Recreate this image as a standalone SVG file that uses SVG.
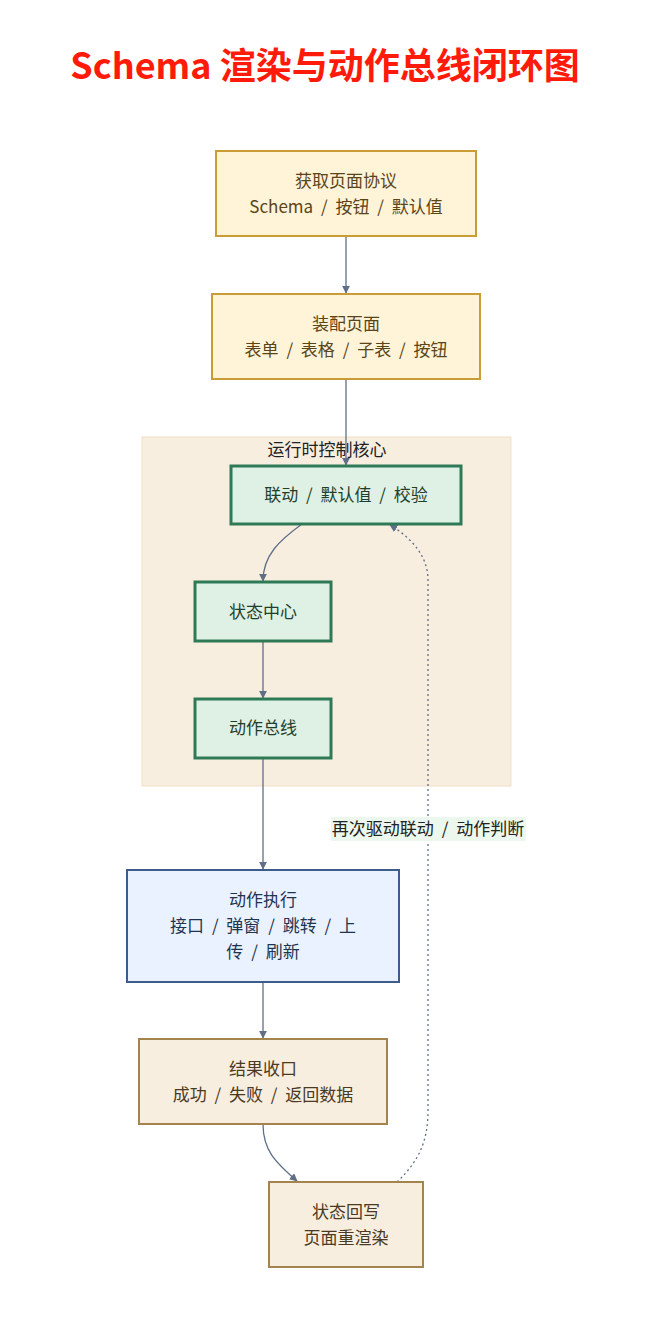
<svg xmlns="http://www.w3.org/2000/svg" width="647" height="1338" viewBox="0 0 647 1338">
<defs>
<style>
text{font-family:"Noto Sans CJK SC","Noto Sans",sans-serif;font-size:17px;text-anchor:middle;dominant-baseline:central;word-spacing:4px}
.title{font-size:36px;font-weight:bold;fill:#ff1a0a;word-spacing:0}
.y rect{fill:#fff3d8;stroke:#c99c35;stroke-width:2}
.y text{fill:#5a4418}
.g rect{fill:#dff1e4;stroke:#2f7a56;stroke-width:3}
.g text{fill:#1f3f2c}
.b rect{fill:#eaf2ff;stroke:#3d5b8c;stroke-width:2}
.b text{fill:#1f3450}
.t rect{fill:#f8eee0;stroke:#a3844e;stroke-width:2}
.t text{fill:#4a3a22}
.e{fill:none;stroke:#5f6f88;stroke-width:1.3}
.d{fill:none;stroke:#5f6f88;stroke-width:1.3;stroke-dasharray:2 3}
</style>
<marker id="ah" viewBox="0 0 10 10" refX="9" refY="5" markerWidth="8" markerHeight="8" markerUnits="userSpaceOnUse" orient="auto"><path d="M0,0L10,5L0,10z" fill="#5f6f88"/></marker>
</defs>
<rect width="647" height="1338" fill="#ffffff"/>
<text class="title" x="325" y="63">Schema 渲染与动作总线闭环图</text>
<g id="cluster">
<rect x="142" y="437" width="369" height="349" fill="#f8eee0" stroke="#efdfc6" stroke-width="1"/>
<text x="327" y="448.5" fill="#222">运行时控制核心</text>
</g>
<g id="connectors">
<path class="e" d="M346,236V293" marker-end="url(#ah)"/>
<path class="e" d="M346,379V465" marker-end="url(#ah)"/>
<path class="e" d="M302,524C280,540 263,555 263,581" marker-end="url(#ah)"/>
<path class="e" d="M263,641V698" marker-end="url(#ah)"/>
<path class="e" d="M263,758V869" marker-end="url(#ah)"/>
<path class="e" d="M263,982V1038" marker-end="url(#ah)"/>
<path class="e" d="M263,1124C263,1150 275,1162 297,1181" marker-end="url(#ah)"/>
<path class="d" d="M397,1182C420,1160 428,1140 428,1110V580C428,555 410,537 390,525" marker-end="url(#ah)"/>
<rect x="331" y="817" width="195" height="24" fill="#ecf7ee"/>
<text x="428" y="827.5" fill="#222">再次驱动联动 / 动作判断</text>
</g>
<g id="n1" class="y"><rect x="216" y="151" width="260" height="85"/><text x="346" y="179.5">获取页面协议</text><text x="346" y="205.5">Schema / 按钮 / 默认值</text></g>
<g id="n2" class="y"><rect x="212" y="294" width="268" height="85"/><text x="346" y="322.5">装配页面</text><text x="346" y="348.5">表单 / 表格 / 子表 / 按钮</text></g>
<g id="n3" class="g"><rect x="231" y="466" width="230" height="58"/><text x="346" y="493.5">联动 / 默认值 / 校验</text></g>
<g id="n4" class="g"><rect x="195" y="582" width="136" height="59"/><text x="263" y="610.5">状态中心</text></g>
<g id="n5" class="g"><rect x="195" y="699" width="136" height="59"/><text x="263" y="726.5">动作总线</text></g>
<g id="n6" class="b"><rect x="127" y="870" width="272" height="112"/><text x="263" y="898.5">动作执行</text><text x="263" y="924.5">接口 / 弹窗 / 跳转 / 上</text><text x="263" y="950.5">传 / 刷新</text></g>
<g id="n7" class="t"><rect x="139" y="1039" width="248" height="85"/><text x="263" y="1067.5">结果收口</text><text x="263" y="1093">成功 / 失败 / 返回数据</text></g>
<g id="n8" class="t"><rect x="269" y="1182" width="154" height="85"/><text x="346" y="1210.5">状态回写</text><text x="346" y="1236.5">页面重渲染</text></g>
</svg>
